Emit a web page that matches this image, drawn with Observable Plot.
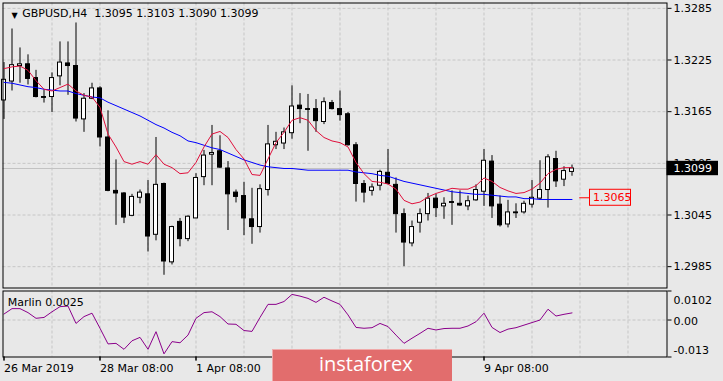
<!DOCTYPE html>
<html><head><meta charset="utf-8">
<script src="https://cdn.jsdelivr.net/npm/d3@7"></script>
<script src="https://cdn.jsdelivr.net/npm/@observablehq/plot@0.6"></script>
<style>
html,body{margin:0;padding:0;background:#e8e8e8;}
#chart{position:relative;width:723px;height:381px;overflow:hidden;background:#e8e8e8;font-family:"DejaVu Sans",sans-serif;}
#chart svg{position:absolute;left:0;}
#logo{position:absolute;left:272px;top:349px;width:180px;height:32px;background:#e26d6d;border-top:1px solid #f0aaaa;border-left:1px solid #f0aaaa;box-sizing:border-box;color:#fff;font-family:"Open Sans",sans-serif;font-size:20px;line-height:28px;padding-left:46px;white-space:nowrap;}
</style></head><body>
<div id="chart"></div>
<script>
const symbolTitle = "GBPUSD,H4";
const indicatorName = "Marlin";
const levelValue = 1.3065;

const open = [1.3178,1.3200,1.3218,1.3220,1.3204,1.3182,1.3182,1.3206,1.3221,1.3218,
1.3156,1.3180,1.3192,1.3135,1.3073,1.3070,1.3044,1.3065,1.3069,1.3022,
1.3081,1.2990,1.3037,1.3017,1.3041,1.3089,1.3115,1.3119,1.3099,1.3071,
1.3067,1.3040,1.3031,1.3074,1.3126,1.3128,1.3140,1.3172,1.3168,1.3168,
1.3153,1.3175,1.3168,1.3162,1.3126,1.3081,1.3073,1.3079,1.3094,1.3080,
1.3046,1.3012,1.3036,1.3046,1.3064,1.3055,1.3060,1.3058,1.3055,1.3062,
1.3072,1.3107,1.3057,1.3034,1.3048,1.3048,1.3057,1.3064,1.3074,1.3110,
1.3086,1.3095];
const high = [1.3222,1.3261,1.3239,1.3231,1.3213,1.3190,1.3210,1.3246,1.3246,1.3268,
1.3186,1.3198,1.3194,1.3166,1.3109,1.3071,1.3069,1.3074,1.3085,1.3135,
1.3082,1.3032,1.3041,1.3044,1.3093,1.3120,1.3149,1.3137,1.3107,1.3074,
1.3083,1.3076,1.3080,1.3149,1.3141,1.3146,1.3195,1.3186,1.3185,1.3179,
1.3181,1.3178,1.3189,1.3164,1.3129,1.3085,1.3081,1.3097,1.3121,1.3088,
1.3052,1.3038,1.3052,1.3070,1.3069,1.3065,1.3073,1.3073,1.3067,1.3080,
1.3121,1.3114,1.3067,1.3062,1.3058,1.3061,1.3085,1.3108,1.3115,1.3119,
1.3101,1.3103];
const low = [1.3156,1.3189,1.3198,1.3196,1.3181,1.3175,1.3164,1.3195,1.3184,1.3153,
1.3141,1.3179,1.3124,1.3072,1.3033,1.3035,1.3043,1.3058,1.3002,1.3015,
1.2975,1.2987,1.3008,1.3014,1.3041,1.3079,1.3079,1.3099,1.3027,1.3059,
1.3021,1.3011,1.3024,1.3067,1.3121,1.3121,1.3133,1.3151,1.3119,1.3141,
1.3150,1.3167,1.3154,1.3125,1.3060,1.3059,1.3067,1.3073,1.3080,1.3024,
1.2985,1.3008,1.3024,1.3038,1.3042,1.3040,1.3033,1.3055,1.3050,1.3061,
1.3055,1.3041,1.3031,1.3030,1.3041,1.3046,1.3053,1.3062,1.3053,1.3077,
1.3078,1.3090];
const close = [1.3202,1.3219,1.3220,1.3203,1.3182,1.3181,1.3204,1.3222,1.3218,1.3157,
1.3180,1.3192,1.3135,1.3073,1.3070,1.3042,1.3066,1.3071,1.3020,1.3080,
1.2991,1.3031,1.3017,1.3043,1.3088,1.3114,1.3117,1.3100,1.3069,1.3066,
1.3041,1.3031,1.3075,1.3127,1.3130,1.3141,1.3171,1.3168,1.3167,1.3154,
1.3176,1.3168,1.3161,1.3126,1.3081,1.3071,1.3077,1.3095,1.3081,1.3046,
1.3013,1.3031,1.3046,1.3064,1.3053,1.3058,1.3059,1.3056,1.3061,1.3074,
1.3108,1.3055,1.3033,1.3048,1.3047,1.3058,1.3065,1.3074,1.3112,1.3084,
1.3096,1.3099];
const maFast = [1.3215,1.3217,1.3218,1.3213,1.3201,1.3191,1.3189,1.3193,1.3197,1.3189,
1.3184,1.3182,1.3170,1.3139,1.3124,1.3107,1.3104,1.3107,1.3104,1.3115,
1.3104,1.3100,1.3093,1.3094,1.3106,1.3124,1.3139,1.3142,1.3135,1.3121,
1.3110,1.3092,1.3091,1.3110,1.3129,1.3141,1.3155,1.3158,1.3155,1.3143,
1.3135,1.3131,1.3129,1.3124,1.3106,1.3093,1.3084,1.3083,1.3081,1.3075,
1.3062,1.3058,1.3060,1.3066,1.3070,1.3073,1.3076,1.3075,1.3075,1.3079,
1.3088,1.3084,1.3077,1.3073,1.3070,1.3071,1.3075,1.3082,1.3093,1.3098,
1.3100,1.3100];
const maSlow = [1.3199,1.3198,1.3196,1.3194,1.3193,1.3191,1.3190,1.3189,1.3189,1.3186,
1.3184,1.3182,1.3181,1.3176,1.3172,1.3168,1.3164,1.3160,1.3155,1.3150,
1.3146,1.3141,1.3137,1.3131,1.3129,1.3126,1.3123,1.3121,1.3117,1.3113,
1.3109,1.3106,1.3103,1.3101,1.3100,1.3099,1.3099,1.3098,1.3097,1.3097,
1.3097,1.3097,1.3097,1.3097,1.3095,1.3094,1.3093,1.3091,1.3090,1.3087,
1.3084,1.3082,1.3080,1.3078,1.3076,1.3074,1.3072,1.3071,1.3070,1.3069,
1.3069,1.3068,1.3067,1.3066,1.3066,1.3064,1.3064,1.3063,1.3063,1.3063,
1.3063,1.3063];
const marlin = [0.0021,0.0040,0.0040,0.0026,0.0006,0.0009,0.0029,0.0047,0.0049,-0.0012,
0.0012,0.0024,-0.0029,-0.0084,-0.0082,-0.0103,-0.0073,-0.0061,-0.0103,-0.0041,
-0.0119,-0.0076,-0.0080,-0.0053,0.0006,0.0026,0.0029,0.0012,-0.0014,-0.0015,
-0.0037,-0.0040,0.0009,0.0055,0.0055,0.0065,0.0090,0.0084,0.0076,0.0062,
0.0080,0.0067,0.0055,0.0018,-0.0026,-0.0029,-0.0027,-0.0012,-0.0023,-0.0053,
-0.0082,-0.0064,-0.0047,-0.0029,-0.0035,-0.0030,-0.0029,-0.0029,-0.0021,-0.0006,
0.0024,-0.0026,-0.0044,-0.0032,-0.0027,-0.0018,-0.0009,0.0000,0.0038,0.0014,
0.0020,0.0025];

const priceTicks = [1.2985, 1.3045, 1.3105, 1.3165, 1.3225, 1.3285];
const marlinTicks = [0.0102, 0, -0.013];
const marlinTickLabels = ["0.0102", "0.00", "-0.013"];
const timeTickIdx = [0, 12, 24, 36, 48, 60];
const timeLabelIdx = [0, 12, 24, 60];
const timeLabels = ["26 Mar 2019", "28 Mar 08:00", "1 Apr 08:00", "9 Apr 08:00"];
const gridIdx = [6,12,18,24,30,36,42,48,54,60,66,72,78];

const last = open.length - 1;
const fmt = v => v.toFixed(4);
const candles = d3.range(open.length).map(i => ({
  i, o: open[i], h: high[i], l: low[i], c: close[i],
  fast: maFast[i], slow: maSlow[i], marlin: marlin[i]
}));

const xDomain = [-0.125, 82.875];
const yDomain = [1.296022, 1.329119];
const pxPerBar = (666.5 - 2.5) / (xDomain[1] - xDomain[0]);
const pxPerPrice = (287.5 - 2.5) / (yDomain[1] - yDomain[0]);
const gridStyle = {stroke: "#c6c6c6", strokeOpacity: 1, strokeDasharray: "3,2"};
const fontStyle = {background: "transparent", fontFamily: "DejaVu Sans", fontSize: "11px", color: "#000", overflow: "visible"};

const title = `${symbolTitle}\u00a0\u00a0${fmt(open[last])} ${fmt(high[last])} ${fmt(low[last])} ${fmt(close[last])}`;

const main = Plot.plot({
  width: 723, height: 290,
  marginLeft: 2.5, marginRight: 56.5, marginTop: 2.5, marginBottom: 2.5,
  style: fontStyle,
  x: {type: "linear", domain: xDomain, axis: null, label: null},
  y: {type: "linear", domain: yDomain, axis: null, label: null},
  marks: [
    Plot.gridX(gridIdx, gridStyle),
    Plot.gridY(priceTicks, gridStyle),
    Plot.ruleY([close[last]], {stroke: "#c2c2c2"}),
    Plot.ruleX(candles, {x: "i", y1: "l", y2: "h", stroke: "#000"}),
    Plot.rect(candles.filter(d => d.c >= d.o), {x1: d => d.i - 0.25, x2: d => d.i + 0.25, y1: "o", y2: "c", fill: "#fff", stroke: "#000"}),
    Plot.rect(candles.filter(d => d.c < d.o), {x1: d => d.i - 0.25, x2: d => d.i + 0.25, y1: "o", y2: "c", fill: "#000", stroke: "#000"}),
    Plot.line(candles, {x: "i", y: "slow", stroke: "#0000ff", strokeWidth: 1}),
    Plot.line(candles, {x: "i", y: "fast", stroke: "#e0103c", strokeWidth: 1}),
    Plot.ruleY([levelValue], {x1: last + 0.97, x2: last + 2.25, stroke: "#ff0000"}),
    Plot.rect([levelValue], {x1: last + 2.25, x2: last + 2.25 + 41 / pxPerBar, y1: d => d - 8 / pxPerPrice, y2: d => d + 8 / pxPerPrice, fill: "none", stroke: "#ff0000"}),
    Plot.text([levelValue], {x: last + 2.25, y: d => d, text: fmt, dx: 3, textAnchor: "start", fill: "#ff0000"}),
    Plot.frame({stroke: "#000"}),
    Plot.axisY(priceTicks, {anchor: "right", tickSize: 4, tickPadding: 2.5, tickFormat: fmt, label: null}),
    Plot.rect([close[last]], {x1: xDomain[1], x2: xDomain[1] + 51.5 / pxPerBar, y1: d => d - 7.2 / pxPerPrice, y2: d => d + 7.2 / pxPerPrice, fill: "#000"}),
    Plot.text([close[last]], {x: xDomain[1], y: d => d, text: fmt, dx: 6.5, textAnchor: "start", fill: "#fff"}),
    Plot.text(["\u25BC"], {frameAnchor: "top-left", dx: 8.5, dy: 9.8, fontSize: 8, fill: "#000", text: d => d}),
    Plot.text([title], {frameAnchor: "top-left", dx: 19.2, dy: 6, textAnchor: "start", lineAnchor: "top", fill: "#000", text: d => d})
  ]
});

const lower = Plot.plot({
  width: 723, height: 93,
  marginLeft: 2.5, marginRight: 56.5, marginTop: 2.5, marginBottom: 24.5,
  style: fontStyle,
  x: {type: "linear", domain: xDomain, axis: null, label: null},
  y: {type: "linear", domain: [-0.013, 0.0102], axis: null, label: null},
  marks: [
    Plot.gridX(gridIdx, gridStyle),
    Plot.gridY([0], gridStyle),
    Plot.line(candles, {x: "i", y: "marlin", stroke: "#8b008b", strokeWidth: 1}),
    Plot.frame({stroke: "#000"}),
    Plot.axisY(marlinTicks, {anchor: "right", tickSize: 4, tickFormat: () => "", label: null}),
    Plot.text([marlinTicks[0]], {x: xDomain[1], y: d => d, text: () => marlinTickLabels[0], dx: 6.5, dy: 9.5, textAnchor: "start", fill: "#000"}),
    Plot.text([marlinTicks[1]], {x: xDomain[1], y: d => d, text: () => marlinTickLabels[1], dx: 6.5, dy: 1, textAnchor: "start", fill: "#000"}),
    Plot.text([marlinTicks[2]], {x: xDomain[1], y: d => d, text: () => marlinTickLabels[2], dx: 6.5, dy: -7, textAnchor: "start", fill: "#000"}),
    Plot.axisX(timeTickIdx, {anchor: "bottom", tickSize: 4, tickFormat: () => "", label: null}),
    Plot.axisX(timeLabelIdx, {anchor: "bottom", tickSize: 4, tickPadding: 3, textAnchor: "start", label: null,
      tickFormat: d => timeLabels[timeLabelIdx.indexOf(d)]}),
    Plot.text([`${indicatorName} ${fmt(marlin[last])}`], {frameAnchor: "top-left", dx: 4.8, dy: 6.8, textAnchor: "start", lineAnchor: "top", fill: "#000", text: d => d})
  ]
});

const chart = document.getElementById("chart");
main.style.top = "0px";
lower.style.top = "288px";
chart.appendChild(main);
chart.appendChild(lower);
const logo = document.createElement("div");
logo.id = "logo";
logo.textContent = "instaforex";
chart.appendChild(logo);
</script>
</body></html>
